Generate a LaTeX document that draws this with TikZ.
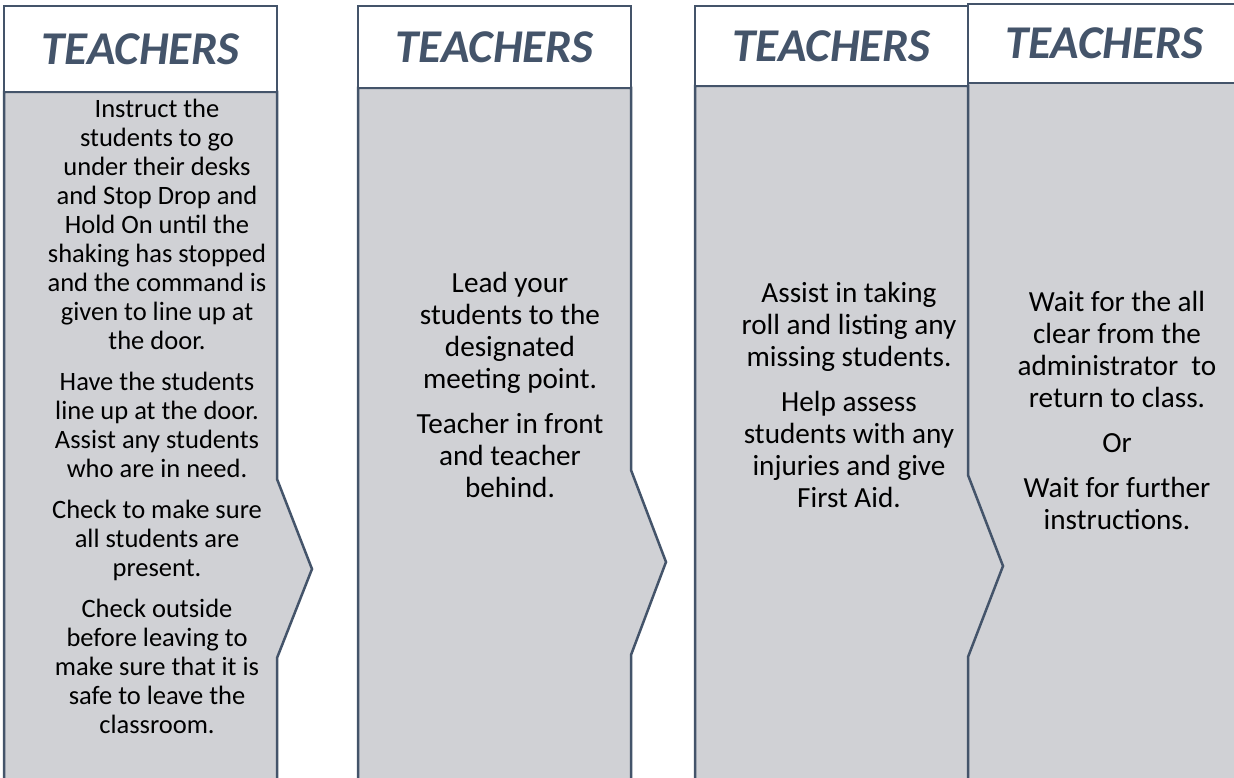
\documentclass[tikz,border=0pt]{standalone}
\usepackage{fontspec}
\setmainfont{Carlito}
\definecolor{slate}{HTML}{44546A}
\definecolor{panel}{RGB}{208,209,213}

\begin{document}
\begin{tikzpicture}[x=1pt,y=-1pt]

\def\colw{273pt}
\tikzstyle{head} = [
	draw=slate, fill=white, line width=2.5pt, rectangle,
	minimum width=\colw, text=slate, inner sep=0pt,
	font=\fontsize{47}{56}\selectfont\bfseries\itshape ];
\tikzstyle{body} = [draw=slate, fill=panel, line width=2.5pt];
\tikzstyle{txt} = [align=center, font=\fontsize{29.2}{32}\selectfont];
\tikzstyle{small} = [font=\fontsize{26.5}{29}\selectfont];

\useasboundingbox (0,0) rectangle (1234,778);
\clip (0,0) rectangle (1234,778);

% columns, right to left so each arrow lies on the next one
\draw[body] (968,83) -- (1240,83) -- (1240,790) -- (968,790) -- cycle;
\draw[body] (695,86) -- (968,86) -- (968,475) -- (1003,566) -- (968,657)
	-- (968,790) -- (695,790) -- cycle;
\draw[body] (358,88) -- (631,88) -- (631,470) -- (666,562) -- (631,655)
	-- (631,790) -- (358,790) -- cycle;
\draw[body] (4,92) -- (277,92) -- (277,479) -- (312,569) -- (277,658)
	-- (277,790) -- (4,790) -- cycle;

\node[head,minimum width=272pt,minimum height=79pt] (h4) at (1104,43.5) {TEACHERS};
\node[head,minimum height=80pt] (h3) at (831.5,46) {TEACHERS};
\node[head,minimum height=82pt] (h2) at (494.5,47) {TEACHERS};
\node[head,minimum height=86pt] (h1) at (140.5,49) {TEACHERS};

\node[txt,small] (t1) at (157,416) {Instruct the\\ students to go\\ under their desks\\
	and Stop Drop and\\ Hold On until the\\ shaking has stopped\\
	and the command is\\ given to line up at\\ the door.\\[12pt]
	Have the students\\ line up at the door.\\ Assist any students\\
	who are in need.\\[12pt]
	Check to make sure\\ all students are\\ present.\\[12pt]
	Check outside\\ before leaving to\\ make sure that it is\\
	safe to leave the\\ classroom.};
\node[txt] (t2) at (510,384.5) {Lead your\\ students to the\\ designated\\
	meeting point.\\[13pt] Teacher in front\\ and teacher\\ behind.};
\node[txt] (t3) at (849,395) {Assist in taking\\ roll and listing any\\
	missing students.\\[13pt] Help assess\\ students with any\\
	injuries and give\\ First Aid.};
\node[txt] (t4) at (1117,410) {Wait for the all\\ clear from the\\
	administrator~ to\\ return to class.\\[13pt] Or\\[13pt]
	Wait for further\\ instructions.};

\end{tikzpicture}
\end{document}
